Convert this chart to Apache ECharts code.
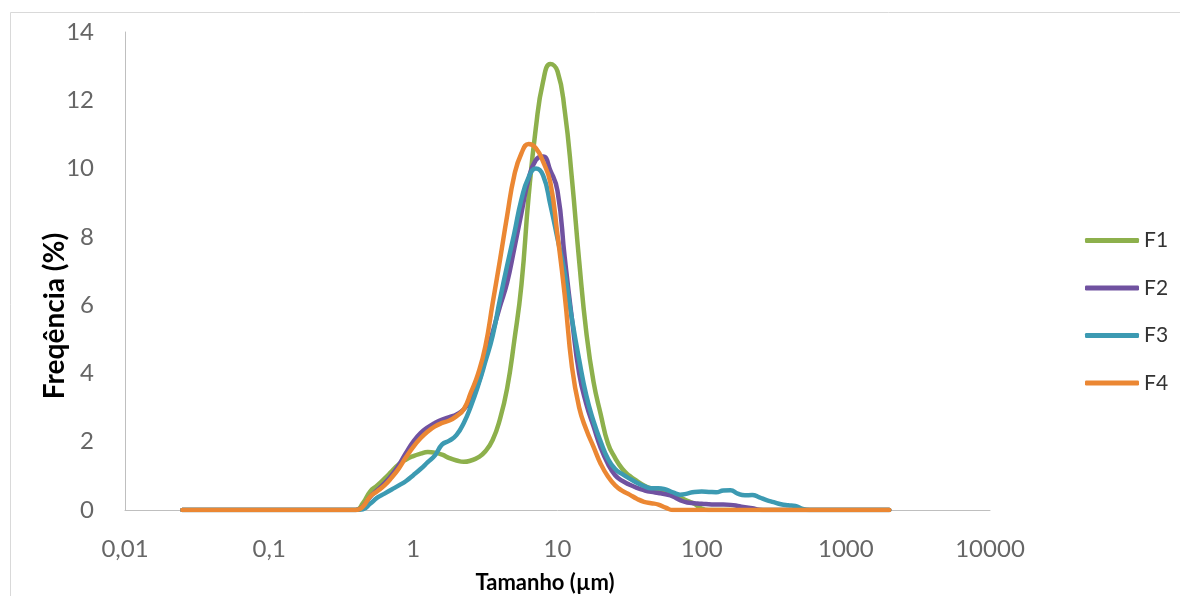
<!DOCTYPE html>
<html>
<head>
<meta charset="utf-8">
<script src="https://cdn.jsdelivr.net/npm/echarts@6/dist/echarts.min.js"></script>
<style>
  html, body { margin: 0; padding: 0; background: #ffffff; }
  #chart { width: 1180px; height: 596px; }
</style>
</head>
<body>
<div id="chart"></div>
<script>
// Particle sizes (µm), x values
const sizes = [0.025, 0.398, 0.447, 0.501, 0.562, 0.631, 0.708, 0.794, 0.891, 1, 1.122, 1.259, 1.413, 1.585, 1.778, 1.995, 2.239, 2.512, 2.818, 3.162, 3.548, 3.981, 4.467, 5.012, 5.623, 6.31, 7.079, 7.943, 8.913, 10, 11.22, 12.59, 14.13, 15.85, 17.78, 19.95, 22.39, 25.12, 28.18, 31.62, 35.48, 39.81, 44.67, 50.12, 56.23, 63.1, 70.79, 79.43, 89.13, 100, 112.2, 125.9, 141.3, 158.5, 177.8, 199.5, 223.9, 251.2, 281.8, 316.2, 354.8, 398.1, 446.7, 501.2, 562.3, 631, 2000];

// Frequency (%) per series
const F1 = [0, 0, 0.2, 0.54, 0.72, 0.92, 1.13, 1.34, 1.48, 1.58, 1.65, 1.7, 1.68, 1.62, 1.52, 1.45, 1.41, 1.45, 1.54, 1.72, 2.05, 2.65, 3.55, 4.95, 6.6, 9.2, 11.2, 12.55, 13.06, 12.85, 11.7, 9.7, 7.3, 5.2, 3.75, 2.8, 1.95, 1.52, 1.2, 1.0, 0.85, 0.72, 0.63, 0.57, 0.52, 0.45, 0.37, 0.27, 0.18, 0.04, 0, 0, 0, 0, 0, 0, 0, 0, 0, 0, 0, 0, 0, 0, 0, 0, 0];
const F2 = [0, 0, 0.1, 0.38, 0.58, 0.78, 1.02, 1.32, 1.68, 2.0, 2.25, 2.42, 2.55, 2.65, 2.72, 2.8, 2.95, 3.25, 3.7, 4.45, 5.2, 5.95, 6.65, 7.65, 8.7, 9.7, 10.25, 10.35, 9.95, 9.35, 7.4, 5.6, 4.0, 3.1, 2.45, 1.82, 1.35, 1.02, 0.85, 0.74, 0.65, 0.58, 0.53, 0.5, 0.46, 0.4, 0.29, 0.22, 0.2, 0.18, 0.17, 0.16, 0.16, 0.15, 0.12, 0.08, 0.05, 0.01, 0, 0, 0, 0, 0, 0, 0, 0, 0];
const F3 = [0, 0, 0.02, 0.18, 0.36, 0.48, 0.6, 0.72, 0.85, 1.02, 1.2, 1.4, 1.6, 1.92, 2.03, 2.2, 2.55, 3.05, 3.65, 4.35, 5.1, 6.15, 7.15, 8.1, 9.1, 9.75, 10.0, 9.8, 8.95, 7.95, 6.95, 5.6, 4.4, 3.35, 2.6, 2.0, 1.5, 1.2, 1.05, 0.92, 0.8, 0.7, 0.64, 0.64, 0.6, 0.52, 0.45, 0.48, 0.53, 0.54, 0.53, 0.52, 0.57, 0.58, 0.48, 0.43, 0.44, 0.37, 0.29, 0.23, 0.17, 0.14, 0.12, 0.03, 0, 0, 0];
const F4 = [0, 0, 0.1, 0.39, 0.55, 0.72, 0.95, 1.22, 1.55, 1.85, 2.1, 2.3, 2.45, 2.55, 2.62, 2.75, 2.95, 3.45, 4.0, 4.8, 6.05, 7.3, 8.6, 9.8, 10.45, 10.72, 10.6, 10.2, 9.6, 8.05, 6.3, 4.2, 3.0, 2.35, 1.85, 1.35, 0.98, 0.72, 0.56, 0.45, 0.33, 0.24, 0.2, 0.16, 0.07, 0, 0, 0, 0, 0, 0, 0, 0, 0, 0, 0, 0, 0, 0, 0, 0, 0, 0, 0, 0, 0, 0];

const seriesNames = ['F1', 'F2', 'F3', 'F4'];
const seriesValues = [F1, F2, F3, F4];
const seriesColors = ['#8db04c', '#7052a0', '#3c9ab2', '#eb8733'];
const xTickLabels = ['0,01', '0,1', '1', '10', '100', '1000', '10000'];
const yTicks = [0, 2, 4, 6, 8, 10, 12, 14];
const xTitle = 'Tamanho (µm)';
const yTitle = 'Freqência (%)';

const chart = echarts.init(document.getElementById('chart'), null, { renderer: 'canvas' });

const series = seriesNames.map((name, i) => ({
  name: name,
  type: 'line',
  data: sizes.map((s, j) => [s, seriesValues[i][j]]),
  smooth: 0.5,
  symbol: 'none',
  lineStyle: { width: 4.5, color: seriesColors[i], cap: 'round', join: 'round' },
  itemStyle: { color: seriesColors[i] },
  z: 2 + i
}));

chart.setOption({
  animation: false,
  backgroundColor: '#ffffff',
  grid: { left: 125, right: 190, top: 32, bottom: 86, containLabel: false },
  xAxis: {
    type: 'log',
    logBase: 10,
    min: 0.01,
    max: 10000,
    axisLine: { show: true, lineStyle: { color: '#bfbfbf', width: 1 } },
    axisTick: { show: false },
    splitLine: { show: false },
    minorTick: { show: false },
    axisLabel: {
      margin: 27,
      fontFamily: 'Lato',
      fontSize: 24,
      color: '#666666',
      formatter: v => xTickLabels[Math.round(Math.log10(v)) + 2]
    }
  },
  yAxis: {
    type: 'value',
    min: yTicks[0],
    max: yTicks[yTicks.length - 1],
    interval: 2,
    axisLine: { show: true, lineStyle: { color: '#bfbfbf', width: 1 } },
    axisTick: { show: false },
    splitLine: { show: false },
    axisLabel: {
      margin: 31,
      fontFamily: 'Lato',
      fontSize: 24,
      color: '#666666'
    }
  },
  legend: {
    orient: 'vertical',
    left: 1080,
    top: 223,
    itemWidth: 54,
    itemHeight: 5,
    itemGap: 22.5,
    icon: 'roundRect',
    textStyle: { fontFamily: 'Lato', fontSize: 21, lineHeight: 25, color: '#333333' },
    data: seriesNames.map((n, i) => ({
      name: n,
      itemStyle: { color: seriesColors[i] }
    }))
  },
  graphic: [
    {
      type: 'rect',
      silent: true,
      shape: { x: 10.5, y: 12.5, width: 1200, height: 640 },
      style: { fill: 'none', stroke: '#d9d9d9', lineWidth: 1 }
    },
    {
      type: 'text',
      x: 55,
      y: 316,
      rotation: Math.PI / 2,
      style: {
        text: yTitle,
        align: 'center',
        verticalAlign: 'middle',
        fontFamily: 'Lato',
        fontWeight: 'bold',
        fontSize: 28,
        fill: '#000000'
      }
    },
    {
      type: 'text',
      x: 545,
      y: 583,
      style: {
        text: xTitle,
        align: 'center',
        verticalAlign: 'middle',
        fontFamily: 'Lato',
        fontWeight: 'bold',
        fontSize: 22,
        fill: '#000000'
      }
    }
  ],
  series: series
});
</script>
</body>
</html>
